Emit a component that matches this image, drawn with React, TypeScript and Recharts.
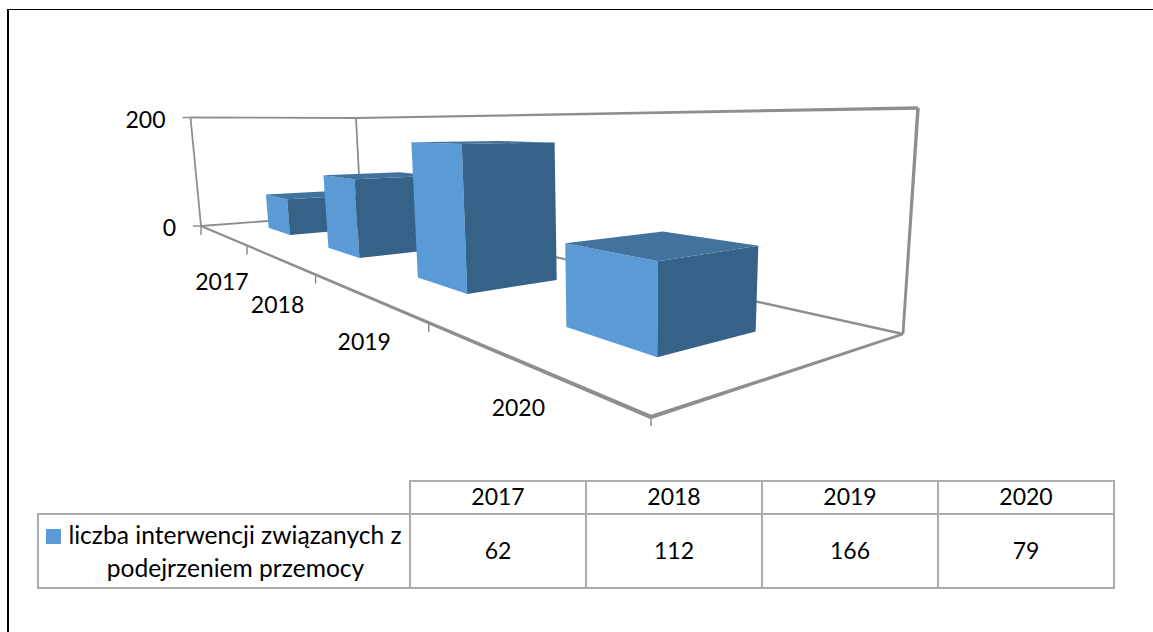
import { BarChart, Bar, XAxis, YAxis } from 'recharts';

const years = ['2017', '2018', '2019', '2020'];
const interventions = [62, 112, 166, 79];
const valueTicks = [0, 200];
const seriesName = ['liczba interwencji związanych z', 'podejrzeniem przemocy'];

const chartData = years.map((year, i) => ({ year, value: interventions[i] }));

const FONT = 'Lato, Carlito, Calibri, sans-serif';
const LIGHT = '#5b9bd5';
const DARK = '#376287';
const TOP = '#42739e';
const GRID = '#8e8e8e';

const CHART_W = 1153;
const CHART_H = 632;
const AXIS_SIZE = 20;
const PLOT_W = CHART_W - AXIS_SIZE * 2;
const PLOT_H = CHART_H - AXIS_SIZE * 2;

// Bars sit in the middle of the floor depth, same gap as along the category axis
const DEPTH_FRONT = 0.3;
const DEPTH_BACK = 0.7;

type Pt = [number, number];

// Corners of the 3D box as they land on the screen
const A: Pt = [201, 226];
const B: Pt = [651, 417];
const C: Pt = [903, 334];
const D: Pt = [361, 214];
const A_TOP: Pt = [190.5, 117.5];
const D_TOP: Pt = [356, 118];
const C_TOP: Pt = [918, 108];

// Floor homography, unit square -> A B C D
const dx1 = B[0] - C[0];
const dx2 = D[0] - C[0];
const sx = A[0] - B[0] + C[0] - D[0];
const dy1 = B[1] - C[1];
const dy2 = D[1] - C[1];
const sy = A[1] - B[1] + C[1] - D[1];
const det = dx1 * dy2 - dx2 * dy1;
const g = (sx * dy2 - dx2 * sy) / det;
const h = (dx1 * sy - sx * dy1) / det;
const m11 = B[0] - A[0] + g * B[0];
const m12 = D[0] - A[0] + h * D[0];
const m21 = B[1] - A[1] + g * B[1];
const m22 = D[1] - A[1] + h * D[1];

// Height column, fitted on the wall corners above A and C
const wC = g + h + 1;
const sA = A_TOP[0] - A[0];
const sC = wC * (C_TOP[0] - C[0]);
const zW = (sA - sC) / (C_TOP[0] - A_TOP[0]);
const zX = sA + A_TOP[0] * zW;
const zY = A_TOP[1] - A[1] + A_TOP[1] * zW;

function project(u: number, v: number, t: number): Pt {
  const w = g * u + h * v + 1 + t * zW;
  return [
    (m11 * u + m12 * v + A[0] + t * zX) / w,
    (m21 * u + m22 * v + A[1] + t * zY) / w,
  ];
}

const pts = (list: Pt[]) => list.map((p) => p.join(',')).join(' ');

// Line that gets thicker towards the viewer
function Edge({ from, to, w1, w2 }: { from: Pt; to: Pt; w1: number; w2: number }) {
  const len = Math.hypot(to[0] - from[0], to[1] - from[1]);
  const nx = -(to[1] - from[1]) / len / 2;
  const ny = (to[0] - from[0]) / len / 2;
  return (
    <polygon
      fill={GRID}
      points={pts([
        [from[0] + nx * w1, from[1] + ny * w1],
        [to[0] + nx * w2, to[1] + ny * w2],
        [to[0] - nx * w2, to[1] - ny * w2],
        [from[0] - nx * w1, from[1] - ny * w1],
      ])}
    />
  );
}

function Frame() {
  return (
    <g>
      <Edge from={A_TOP} to={D_TOP} w1={1.8} w2={1.8} />
      <Edge from={A_TOP} to={A} w1={1.8} w2={1.8} />
      <Edge from={D_TOP} to={D} w1={1.8} w2={1.8} />
      <Edge from={D_TOP} to={C_TOP} w1={1.8} w2={3.5} />
      <Edge from={C_TOP} to={C} w1={3.5} w2={2.8} />
      <Edge from={A} to={D} w1={1.8} w2={1.8} />
      <Edge from={D} to={C} w1={1.8} w2={2.8} />
      <Edge from={A} to={B} w1={2} w2={4.5} />
      <Edge from={B} to={C} w1={4} w2={2.5} />
      <line x1={A[0]} y1={A[1]} x2={A[0]} y2={A[1] + 9} stroke={GRID} strokeWidth={1.5} />
    </g>
  );
}

function Box3D(props: any) {
  const { x, width, height } = props;
  const u0 = (x - AXIS_SIZE) / PLOT_W;
  const u1 = (x + width - AXIS_SIZE) / PLOT_W;
  const t = height / PLOT_H;
  const lowFront = project(u0, DEPTH_FRONT, 0);
  const lowCorner = project(u1, DEPTH_FRONT, 0);
  const lowBack = project(u1, DEPTH_BACK, 0);
  const upFront = project(u0, DEPTH_FRONT, t);
  const upCorner = project(u1, DEPTH_FRONT, t);
  const upBack = project(u1, DEPTH_BACK, t);
  const upFar = project(u0, DEPTH_BACK, t);
  return (
    <g transform="translate(1,1)">
      <polygon fill={LIGHT} points={pts([upFront, upCorner, lowCorner, lowFront])} />
      <polygon fill={DARK} points={pts([upCorner, upBack, lowBack, lowCorner])} />
      <polygon fill={TOP} points={pts([upFront, upCorner, upBack, upFar])} />
    </g>
  );
}

function YearTick(props: any) {
  const { x, payload } = props;
  const band = PLOT_W / years.length;
  const mid = project((x - AXIS_SIZE) / PLOT_W, 0, 0);
  const end = project((x + band / 2 - AXIS_SIZE) / PLOT_W, 0, 0);
  return (
    <g>
      <line x1={end[0]} y1={end[1]} x2={end[0]} y2={end[1] + 9} stroke={GRID} strokeWidth={1.5} />
      <text
        x={mid[0]}
        y={mid[1] + 46}
        textAnchor="middle"
        dominantBaseline="central"
        fontFamily={FONT}
        fontSize={23}
        fill="#000"
      >
        {payload.value}
      </text>
    </g>
  );
}

function ValueTick(props: any) {
  const { y, payload } = props;
  const p = project(0, 0, (PLOT_H + AXIS_SIZE - y) / PLOT_H);
  return (
    <g>
      <line x1={p[0] - 8} y1={p[1]} x2={p[0]} y2={p[1]} stroke={GRID} strokeWidth={1.5} />
      <text
        x={p[0] - 25}
        y={p[1] + 1}
        textAnchor="end"
        dominantBaseline="central"
        fontFamily={FONT}
        fontSize={23}
        fill="#000"
      >
        {payload.value}
      </text>
    </g>
  );
}

const cellBorder = '2px solid #acacac';

function DataTable() {
  const cell = { border: cellBorder, padding: 0, textAlign: 'center' as const };
  return (
    <table
      style={{
        position: 'absolute',
        left: 37,
        top: 480,
        width: 1078,
        height: 107,
        borderCollapse: 'collapse',
        tableLayout: 'fixed',
        fontFamily: FONT,
        fontSize: 23,
        color: '#000',
      }}
    >
      <tbody>
        <tr style={{ height: 33 }}>
          <td style={{ width: 371, padding: 0 }} />
          {years.map((year) => (
            <td key={year} style={{ ...cell, paddingBottom: 3 }}>{year}</td>
          ))}
        </tr>
        <tr style={{ height: 74 }}>
          <td style={{ ...cell, lineHeight: '33px', fontSize: 24.6 }}>
            <div style={{ whiteSpace: 'nowrap' }}>
              <span style={{ display: 'inline-block', width: 15, height: 15, background: LIGHT, marginRight: 7 }} />
              {seriesName[0]}
            </div>
            <div style={{ paddingLeft: 23, whiteSpace: 'nowrap' }}>{seriesName[1]}</div>
          </td>
          {interventions.map((value, i) => (
            <td key={years[i]} style={{ ...cell, paddingBottom: 2 }}>{value}</td>
          ))}
        </tr>
      </tbody>
    </table>
  );
}

export default function App() {
  return (
    <div style={{ position: 'absolute', left: 0, top: 0, width: CHART_W, height: CHART_H, background: '#fff', overflow: 'hidden' }}>
      <div style={{ position: 'absolute', left: 7, top: 9, right: 0, bottom: 0, borderTop: '1.5px solid #000', borderLeft: '2px solid #000' }} />
      <div style={{ position: 'absolute', left: 0, top: 0 }}>
        <BarChart
          width={CHART_W}
          height={CHART_H}
          data={chartData}
          margin={{ top: AXIS_SIZE, right: AXIS_SIZE, bottom: 0, left: 0 }}
          barCategoryGap="30%"
        >
          <Frame />
          <XAxis dataKey="year" height={AXIS_SIZE} axisLine={false} tickLine={false} interval={0} tick={<YearTick />} />
          <YAxis
            type="number"
            domain={[0, 200]}
            ticks={valueTicks}
            width={AXIS_SIZE}
            axisLine={false}
            tickLine={false}
            interval={0}
            tick={<ValueTick />}
          />
          <Bar dataKey="value" isAnimationActive={false} shape={<Box3D />} />
        </BarChart>
      </div>
      <DataTable />
    </div>
  );
}
